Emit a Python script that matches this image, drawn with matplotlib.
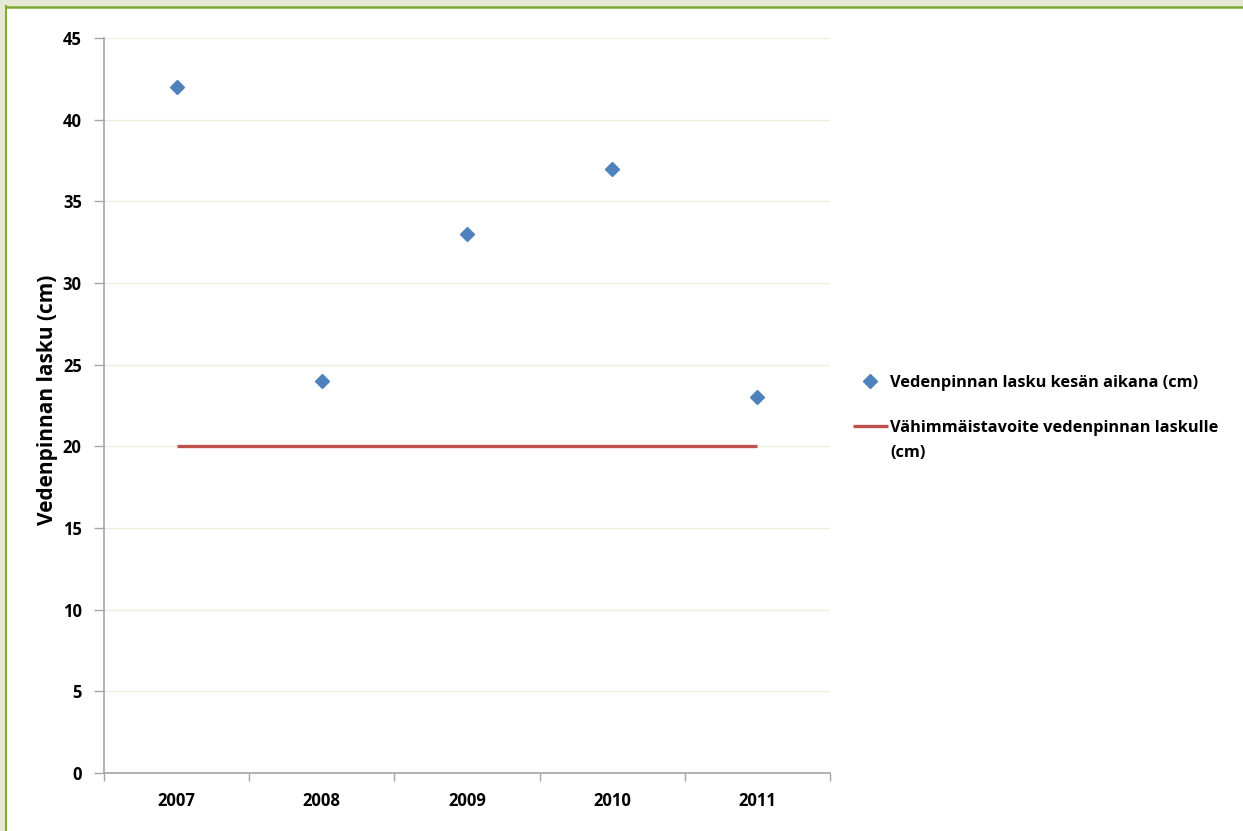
import matplotlib
matplotlib.use("Agg")
import matplotlib.pyplot as plt
from matplotlib.patches import Rectangle
from matplotlib.lines import Line2D

years = ["2007", "2008", "2009", "2010", "2011"]
drop_cm = [42, 24, 33, 37, 23]
target_cm = [20, 20, 20, 20, 20]
y_ticks = [0, 5, 10, 15, 20, 25, 30, 35, 40, 45]

series_label = "Vedenpinnan lasku kesän aikana (cm)"
target_label = "Vähimmäistavoite vedenpinnan laskulle\n(cm)"
y_label = "Vedenpinnan lasku (cm)"

plt.rcParams["font.family"] = ["Open Sans", "DejaVu Sans"]
plt.rcParams["font.weight"] = "bold"

W, H = 1243, 831
fig = plt.figure(figsize=(W / 100, H / 100), dpi=100)
fig.patch.set_facecolor("#E4E8D4")


def fx(px):
    return px / W


def fy(py):
    return 1 - py / H


BLUE = "#4F81BD"
RED = "#C0504D"

# white chart area with a green frame on the top and left
fig.add_artist(Rectangle((fx(5), 0), 1, fy(6), transform=fig.transFigure,
                         facecolor="white", edgecolor="none", zorder=0))
fig.add_artist(Line2D([fx(5.5), fx(5.5)], [0, fy(6)], transform=fig.transFigure,
                      color="#7DA82D", lw=1.4, zorder=1))
fig.add_artist(Line2D([fx(5.5), 1], [fy(6.5), fy(6.5)], transform=fig.transFigure,
                      color="#7DA82D", lw=1.8, zorder=1))

ax = fig.add_axes([fx(104), fy(773), (830 - 104) / W, (773 - 38) / H])
ax.set_facecolor("none")

x = list(range(len(years)))
ax.plot(x, target_cm, color=RED, lw=2.4, solid_capstyle="butt", zorder=3)
ax.plot(x, drop_cm, linestyle="none", marker="D", markersize=7.5,
        color=BLUE, markeredgecolor=BLUE, zorder=4)

ax.set_xlim(-0.5, len(years) - 0.5)
ax.set_ylim(0, 45)
ax.set_yticks(y_ticks)
ax.set_yticklabels([str(v) for v in y_ticks], fontsize=12, fontweight="bold")
ax.yaxis.grid(True, color="#EAF1DD", lw=1.0)
ax.set_axisbelow(True)

# category boundaries carry the tick marks, centres carry the labels
ax.set_xticks([i - 0.5 for i in range(len(years) + 1)])
ax.set_xticklabels([])
ax.set_xticks(x, minor=True)
ax.set_xticklabels(years, minor=True, fontsize=12, fontweight="bold")
ax.tick_params(axis="x", which="major", length=6, color="#A6A6A6", width=1)
ax.tick_params(axis="x", which="minor", length=0, pad=14)
ax.tick_params(axis="y", length=7, color="#A6A6A6", width=1, pad=9)

for side in ("top", "right"):
    ax.spines[side].set_visible(False)
for side in ("left", "bottom"):
    ax.spines[side].set_color("#A6A6A6")
    ax.spines[side].set_linewidth(1.2)

ax.set_ylabel(y_label, fontsize=15, fontweight="bold")
ax.yaxis.set_label_coords(-0.064, 0.508)

# legend, laid out beside the plot area
fig.add_artist(Line2D([fx(870)], [fy(381)], transform=fig.transFigure,
                      marker="D", markersize=7.5, color=BLUE, linestyle="none"))
fig.text(fx(890), fy(383), series_label, fontsize=11.8, fontweight="bold",
         va="center", ha="left")
fig.add_artist(Line2D([fx(853), fx(888)], [fy(426), fy(426)], transform=fig.transFigure,
                      color=RED, lw=2.4, solid_capstyle="butt"))
fig.text(fx(890), fy(428), target_label.split("\n")[0], fontsize=11.8,
         fontweight="bold", va="center", ha="left")
fig.text(fx(890), fy(453), target_label.split("\n")[1], fontsize=11.8,
         fontweight="bold", va="center", ha="left")

fig.savefig("out.png", dpi=100, facecolor=fig.get_facecolor())
